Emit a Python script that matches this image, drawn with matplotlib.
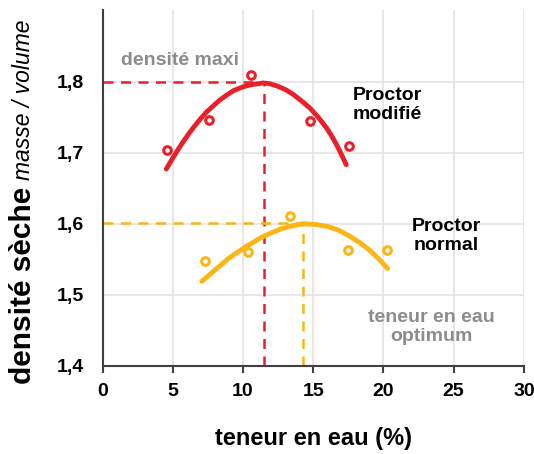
import matplotlib
matplotlib.use('Agg')
import matplotlib.pyplot as plt

plt.rcParams['font.family'] = ['Liberation Sans', 'DejaVu Sans']

# ---------------- data
mod_x = [4.6, 7.6, 10.6, 14.75, 17.55]
mod_y = [1.704, 1.746, 1.809, 1.744, 1.710]
mod_curve_x = [4.54, 4.9, 5.30, 5.7, 6.12, 6.5, 6.95, 7.4, 7.90, 8.35, 8.84, 9.3, 9.79, 10.25,
               10.73, 11.1, 11.44, 11.9, 12.39, 13.0, 13.57, 14.15, 14.75, 15.35, 15.94, 16.3,
               16.64, 17.0, 17.35]
mod_curve_y = [1.677, 1.689, 1.702, 1.714, 1.726, 1.736, 1.747, 1.757, 1.766, 1.774, 1.781, 1.787,
               1.791, 1.794, 1.796, 1.797, 1.798, 1.797, 1.794, 1.789, 1.782, 1.773, 1.763, 1.750,
               1.735, 1.724, 1.712, 1.698, 1.683]

nor_x = [7.3, 10.33, 13.33, 17.47, 20.26]
nor_y = [1.548, 1.560, 1.611, 1.563, 1.563]
nor_curve_x = [7.07, 7.55, 8.01, 8.5, 8.96, 9.55, 10.14, 10.75, 11.33, 12.0, 12.74, 13.5, 14.28,
               15.2, 16.05, 16.8, 17.47, 18.2, 18.89, 19.6, 20.30]
nor_curve_y = [1.519, 1.527, 1.535, 1.543, 1.551, 1.559, 1.567, 1.574, 1.581, 1.587, 1.593, 1.597,
               1.600, 1.599, 1.596, 1.591, 1.584, 1.575, 1.565, 1.552, 1.537]

opt_mod = (11.5, 1.8)
opt_nor = (14.3, 1.601)

x_ticks = [0, 5, 10, 15, 20, 25, 30]
y_ticks = [1.4, 1.5, 1.6, 1.7, 1.8]
y_ticklabels = ['1,4', '1,5', '1,6', '1,7', '1,8']

RED = '#e8202a'
ORANGE = '#fbb514'
GRAY = '#8c8c8c'

fig = plt.figure(figsize=(5.34, 4.54), dpi=100)
ax = fig.add_axes([0.192, 0.194, 0.789, 0.783])

ax.set_xlim(0, 30)
ax.set_ylim(1.4, 1.9)
ax.set_xticks(x_ticks)
ax.set_yticks(y_ticks)
ax.set_yticklabels(y_ticklabels)
ax.grid(True, color='#e3e3e3', linewidth=1.2, zorder=0)
ax.set_axisbelow(True)
for s in ['top', 'right']:
    ax.spines[s].set_visible(False)
for s in ['left', 'bottom']:
    ax.spines[s].set_color('#404040')
    ax.spines[s].set_linewidth(1.5)
ax.tick_params(axis='x', length=5, width=1.5, color='#404040', labelsize=14, pad=7)
ax.tick_params(axis='y', length=0, labelsize=14, pad=13)
for lab in ax.get_xticklabels() + ax.get_yticklabels():
    lab.set_fontweight('bold')

# dashed guides
ax.plot([0, opt_mod[0]], [opt_mod[1], opt_mod[1]], color=RED, ls=(0, (4, 3)), lw=1.8, zorder=2)
ax.plot([opt_mod[0], opt_mod[0]], [1.4, opt_mod[1]], color=RED, ls=(0, (4, 3)), lw=1.8, zorder=2)
ax.plot([0, opt_nor[0]], [opt_nor[1], opt_nor[1]], color=ORANGE, ls=(0, (4, 3)), lw=1.8, zorder=2)
ax.plot([opt_nor[0], opt_nor[0]], [1.4, opt_nor[1]], color=ORANGE, ls=(0, (4, 3)), lw=1.8, zorder=2)

# curves
ax.plot(mod_curve_x, mod_curve_y, color=RED, lw=3.5, solid_capstyle='round',
        solid_joinstyle='round', zorder=3)
ax.plot(nor_curve_x, nor_curve_y, color=ORANGE, lw=3.5, solid_capstyle='round',
        solid_joinstyle='round', zorder=3)

# points
ax.plot(mod_x, mod_y, 'o', ms=5.5, mfc='white', mec=RED, mew=2.2, ls='none', zorder=4)
ax.plot(nor_x, nor_y, 'o', ms=5.5, mfc='white', mec=ORANGE, mew=2.2, ls='none', zorder=4)

# annotations
ax.text(5.5, 1.83, 'densité maxi', color=GRAY, fontsize=14, fontweight='bold', ha='center', va='center')
ax.text(20.3, 1.767, 'Proctor\nmodifié', color='black', fontsize=14, fontweight='bold',
        ha='center', va='center', linespacing=1.2)
ax.text(24.5, 1.583, 'Proctor\nnormal', color='black', fontsize=14, fontweight='bold',
        ha='center', va='center', linespacing=1.2)
ax.text(23.4, 1.455, 'teneur en eau\noptimum', color=GRAY, fontsize=14, fontweight='bold',
        ha='center', va='center', linespacing=1.2)

ax.set_xlabel('teneur en eau (%)', fontsize=17, fontweight='bold', labelpad=20)

# y label in two styles
t1 = fig.text(0.044, 0.154, 'densité sèche', rotation=90, fontsize=21.5, fontweight='bold',
              ha='center', va='bottom')
fig.canvas.draw()
bb = t1.get_window_extent(renderer=fig.canvas.get_renderer())
top = bb.y1 / fig.bbox.height
fig.text(0.044, top + 0.015, 'masse / volume', rotation=90, fontsize=16.5, fontstyle='italic',
         ha='center', va='bottom')

fig.savefig('out.png', dpi=100)
